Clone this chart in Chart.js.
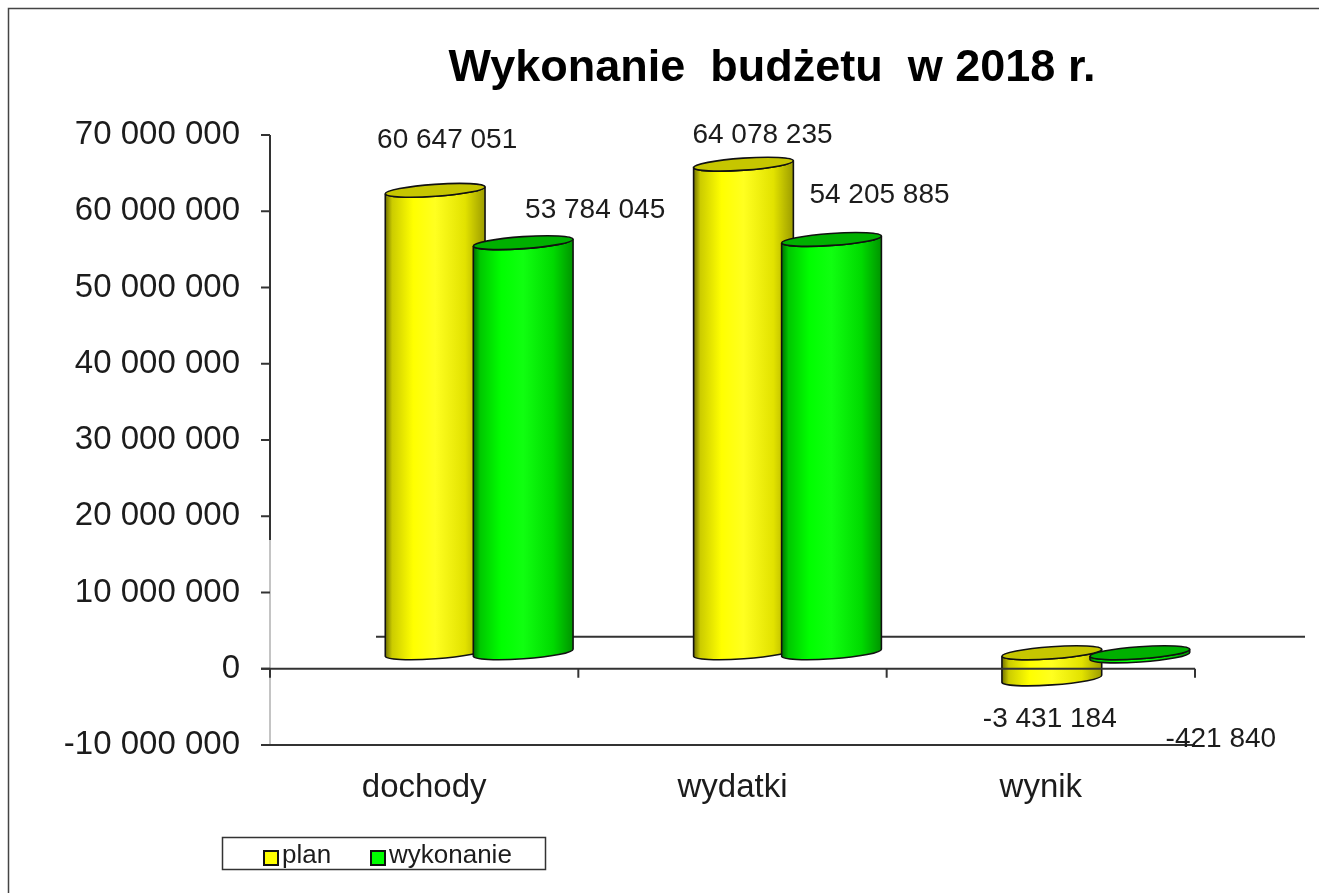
<!DOCTYPE html>
<html>
<head>
<meta charset="utf-8">
<script src="https://cdn.jsdelivr.net/npm/chart.js@4.4.1/dist/chart.umd.min.js"></script>
<style>
  html, body { margin: 0; padding: 0; background: #fff; }
  #wrap { width: 1319px; height: 893px; }
</style>
</head>
<body>
<div id="wrap"><canvas id="budget" width="1319" height="893"></canvas></div>
<script>
// ── Data ─────────────────────────────────────────────────────
const titleText       = 'Wykonanie  budżetu  w 2018 r.';
const categories      = ['dochody', 'wydatki', 'wynik'];
const seriesNames     = ['plan', 'wykonanie'];
const planValues      = [60647051, 64078235, -3431184];
const wykonanieValues = [53784045, 54205885, -421840];
const yMin  = -10000000;
const yMax  = 70000000;
const yStep = 10000000;

// ── Look ─────────────────────────────────────────────────────
const FONT = "'Liberation Sans', Arial, sans-serif";
const palettes = [
  { face: '#ffff00', stops: ['#6f6f00', '#cccc00', '#ffff00', '#ffff20', '#e2e200', '#9c9c00'], top: '#c6c600' },
  { face: '#00ff00', stops: ['#006e00', '#00c800', '#00ff00', '#10ff10', '#00da00', '#009400'], top: '#00b000' },
];
// label shift from the bar top (x, y) per series / category, Excel's 3D placement
const labelShift = [
  [[67, -66], [74, -45], [53, 24]],
  [[127, -48], [103, -60], [136, 67]],
];
const DEPTH_X = 55, DEPTH_Y = -16;     // cylinders sit half way into the 3D depth
const CYL_RX = 50, CYL_RY = 6, TILT = -0.07;

function fmt(v) {
  const s = String(Math.abs(Math.round(v))).replace(/\B(?=(\d{3})+(?!\d))/g, ' ');
  return (v < 0 ? '-' : '') + s;
}

// ── Cylinder drawing ─────────────────────────────────────────
function cylinder(ctx, cx, yTop, yBot, pal) {
  const c = Math.cos(TILT), s = Math.sin(TILT);
  const g = ctx.createLinearGradient(cx - CYL_RX, 0, cx + CYL_RX, 0);
  const pos = [0, 0.07, 0.28, 0.5, 0.8, 1];
  pal.stops.forEach((col, i) => g.addColorStop(pos[i], col));

  ctx.save();
  ctx.lineWidth = 1.6;
  ctx.strokeStyle = '#111';
  ctx.beginPath();
  ctx.moveTo(cx - CYL_RX * c, yTop - CYL_RX * s);
  ctx.lineTo(cx - CYL_RX * c, yBot - CYL_RX * s);
  ctx.ellipse(cx, yBot, CYL_RX, CYL_RY, TILT, Math.PI, 0, true);
  ctx.lineTo(cx + CYL_RX * c, yTop + CYL_RX * s);
  ctx.ellipse(cx, yTop, CYL_RX, CYL_RY, TILT, 0, Math.PI, false);
  ctx.closePath();
  ctx.fillStyle = g;
  ctx.fill();
  ctx.stroke();

  ctx.beginPath();
  ctx.ellipse(cx, yTop, CYL_RX, CYL_RY, TILT, 0, Math.PI * 2);
  ctx.fillStyle = pal.top;
  ctx.fill();
  ctx.stroke();
  ctx.restore();
}

function line(ctx, x1, y1, x2, y2, col, w) {
  ctx.beginPath();
  ctx.strokeStyle = col;
  ctx.lineWidth = w;
  ctx.moveTo(x1, y1);
  ctx.lineTo(x2, y2);
  ctx.stroke();
}

const excel3d = {
  id: 'excel3d',
  beforeDatasetsDraw(chart) {
    const ctx = chart.ctx;
    const area = chart.chartArea;
    const y0 = chart.scales.y.getPixelForValue(0);

    // back floor edge
    line(ctx, area.left + 2 * DEPTH_X - 4, y0 + 2 * DEPTH_Y, 1305, y0 + 2 * DEPTH_Y, '#333', 2);

    categories.forEach((_, i) => {
      chart.data.datasets.forEach((ds, d) => {
        const el = chart.getDatasetMeta(d).data[i];
        const top = Math.min(el.y, el.base) + DEPTH_Y;
        const bot = Math.max(el.y, el.base) + DEPTH_Y;
        cylinder(ctx, el.x + DEPTH_X, top, bot, palettes[d]);
      });
    });
    return false;
  },
  afterDraw(chart) {
    const ctx = chart.ctx;
    const area = chart.chartArea;
    const ys = chart.scales.y;
    const y0 = ys.getPixelForValue(0);

    ctx.save();
    // value axis
    line(ctx, area.left, area.top, area.left, 540, '#333', 2);
    line(ctx, area.left, 540, area.left, area.bottom, '#c4c4c4', 2);
    for (let v = yMin; v <= yMax; v += yStep) {
      const y = ys.getPixelForValue(v);
      line(ctx, area.left - 9, y, area.left, y, '#333', 2);
    }
    // category axis at zero + floor of the box
    line(ctx, area.left - 9, y0, area.right, y0, '#333', 2);
    const step = (area.right - area.left) / categories.length;
    for (let i = 0; i <= categories.length; i++) {
      const x = area.left + i * step;
      line(ctx, x, y0, x, y0 + 9, '#333', 2);
    }
    line(ctx, area.left - 9, area.bottom, area.right, area.bottom, '#333', 2);

    // data labels
    ctx.font = `28px ${FONT}`;
    ctx.fillStyle = '#1c1c1c';
    ctx.textAlign = 'center';
    ctx.textBaseline = 'middle';
    chart.data.datasets.forEach((ds, d) => {
      chart.getDatasetMeta(d).data.forEach((el, i) => {
        const [dx, dy] = labelShift[d][i];
        ctx.fillText(fmt(ds.data[i]), el.x + dx, el.y + dy);
      });
    });

    // title
    ctx.font = `bold 45px ${FONT}`;
    ctx.fillStyle = '#000';
    ctx.textBaseline = 'alphabetic';
    ctx.fillText(titleText, 772, 81);

    // legend
    ctx.strokeStyle = '#333';
    ctx.lineWidth = 1.5;
    ctx.strokeRect(222.5, 837.5, 323, 32);
    ctx.font = `26px ${FONT}`;
    ctx.textAlign = 'left';
    ctx.textBaseline = 'middle';
    const lx = [264, 371];
    chart.data.datasets.forEach((ds, d) => {
      ctx.fillStyle = ds.backgroundColor;
      ctx.fillRect(lx[d], 851, 14, 14);
      ctx.lineWidth = 2;
      ctx.strokeStyle = '#111';
      ctx.strokeRect(lx[d], 851, 14, 14);
      ctx.fillStyle = '#1c1c1c';
      ctx.fillText(ds.label, lx[d] + 18, 856);
    });

    // outer frame
    ctx.strokeStyle = '#444';
    ctx.lineWidth = 1.5;
    ctx.strokeRect(8.5, 8.5, 1330, 900);
    ctx.restore();
  },
};

new Chart(document.getElementById('budget'), {
  type: 'bar',
  data: {
    labels: categories,
    datasets: [
      { label: seriesNames[0], data: planValues, backgroundColor: palettes[0].face },
      { label: seriesNames[1], data: wykonanieValues, backgroundColor: palettes[1].face },
    ],
  },
  options: {
    responsive: false,
    animation: false,
    devicePixelRatio: 1,
    categoryPercentage: 0.571,
    barPercentage: 1,
    layout: { padding: { left: 0, right: 124, top: 135, bottom: 48 } },
    plugins: {
      legend:  { display: false },
      title:   { display: false },
      tooltip: { enabled: false },
    },
    scales: {
      x: {
        grid:   { display: false },
        border: { display: false },
        ticks:  { font: { family: FONT, size: 33 }, color: '#1c1c1c', padding: 15, maxRotation: 0 },
        afterFit: (scale) => { scale.height = 100; },
      },
      y: {
        min: yMin,
        max: yMax,
        grid:   { display: false },
        border: { display: false },
        ticks:  {
          stepSize: yStep,
          font: { family: FONT, size: 33 },
          color: '#1c1c1c',
          padding: 22,
          callback: (v) => fmt(v),
        },
        afterFit: (scale) => { scale.width = 270; },
      },
    },
  },
  plugins: [excel3d],
});
</script>
</body>
</html>
